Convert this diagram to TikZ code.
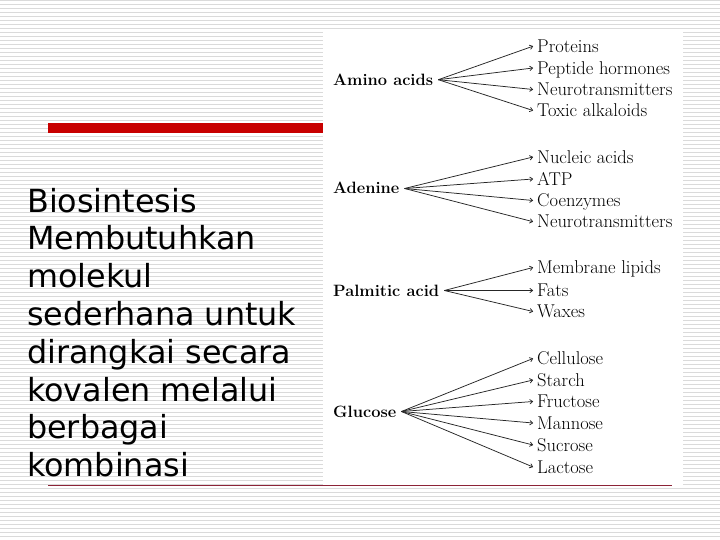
\documentclass[tikz,border=0pt]{standalone}
\usepackage{fontspec}
\newfontfamily\dejavu{DejaVu Sans}
\usetikzlibrary{arrows.meta}
\definecolor{bgline}{RGB}{218,218,218}
\definecolor{slidered}{RGB}{200,0,0}
\definecolor{rulered}{RGB}{140,35,55}
\begin{document}
\begin{tikzpicture}[x=1pt,y=-1pt,
  src/.style={font=\fontsize{16.4}{19}\selectfont\bfseries, anchor=west, inner xsep=5pt, inner ysep=0pt, text height=11pt, text depth=0pt},
  tgt/.style={font=\fontsize{18.5}{21}\selectfont, anchor=west, inner xsep=4pt, inner ysep=0pt, text height=12.5pt, text depth=0pt},
  arr/.style={-{To[length=3.5pt,width=5pt]}, line width=0.75pt, draw=black!85},
  body/.style={font=\dejavu\fontsize{31.8}{37.8}\selectfont, align=left, anchor=base west, inner sep=0pt}]
\useasboundingbox (0,0) rectangle (720,540);
\fill[white] (0,0) rectangle (720,540);
\foreach \k in {0,...,134} \draw[bgline, line width=1.3pt] (0,0.7+4*\k) -- (720,0.7+4*\k);
\fill[white] (323,31) rectangle (683,485);
\fill[slidered] (48,123) rectangle (323,133);
\draw[rulered, line width=1.2pt] (48,485.5) -- (672,485.5);
\node[body] (txt) at (27,476.6) {Biosintesis\\Membutuhkan\\molekul\\sederhana untuk\\dirangkai secara\\kovalen melalui\\berbagai\\kombinasi};
% Amino acids
\node[src] (aa) at (328,79.7) {Amino acids};
\node[tgt] (aa1) at (533,46.2) {Proteins};
\node[tgt] (aa2) at (533,68) {Peptide hormones};
\node[tgt] (aa3) at (533,89.5) {Neurotransmitters};
\node[tgt] (aa4) at (533,110.5) {Toxic alkaloids};
\foreach \t in {aa1,aa2,aa3,aa4} \draw[arr] (aa.east) -- (\t.west);
% Adenine
\node[src] (ad) at (328,188.5) {Adenine};
\node[tgt] (ad1) at (533,157) {Nucleic acids};
\node[tgt] (ad2) at (533,179) {ATP};
\node[tgt] (ad3) at (533,200.5) {Coenzymes};
\node[tgt] (ad4) at (533,221.7) {Neurotransmitters};
\foreach \t in {ad1,ad2,ad3,ad4} \draw[arr] (ad.east) -- (\t.west);
% Palmitic acid
\node[src] (pa) at (328,290.5) {Palmitic acid};
\node[tgt] (pa1) at (533,267.5) {Membrane lipids};
\node[tgt] (pa2) at (533,290.5) {Fats};
\node[tgt] (pa3) at (533,311.5) {Waxes};
\foreach \t in {pa1,pa2,pa3} \draw[arr] (pa.east) -- (\t.west);
% Glucose
\node[src] (gl) at (328,411.5) {Glucose};
\node[tgt] (gl1) at (533,358.5) {Cellulose};
\node[tgt] (gl2) at (533,380) {Starch};
\node[tgt] (gl3) at (533,401.5) {Fructose};
\node[tgt] (gl4) at (533,423) {Mannose};
\node[tgt] (gl5) at (533,445) {Sucrose};
\node[tgt] (gl6) at (533,467) {Lactose};
\foreach \t in {gl1,gl2,gl3,gl4,gl5,gl6} \draw[arr] (gl.east) -- (\t.west);
\end{tikzpicture}
\end{document}
